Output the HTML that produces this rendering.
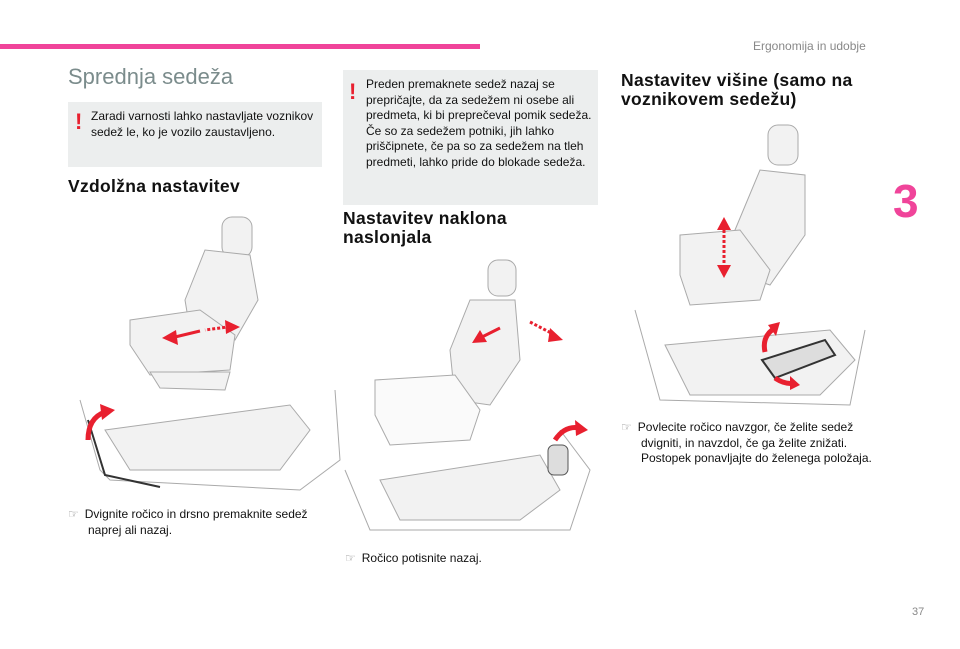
<!DOCTYPE html>
<html><head><meta charset="utf-8"><style>
body{margin:0;width:960px;height:649px;background:#fff;position:relative;overflow:hidden;font-family:"Liberation Sans",sans-serif;color:#111}
.a{position:absolute}
.t{font-size:12px;line-height:15.5px}
h2{position:absolute;margin:0;font-size:17.5px;font-weight:bold;line-height:19px;color:#111;letter-spacing:0.3px}
.box{position:absolute;background:#eceeee}
.ex{position:absolute;color:#e8202f;font-weight:bold;font-size:22px;line-height:20px}
.f{color:#888;margin-right:6px}
svg{position:absolute;left:0;top:0}
</style></head><body>
<div class="a" style="left:0;top:44px;width:480px;height:5px;background:#f0449a"></div>
<div class="a" style="left:753px;top:39px;font-size:12px;color:#888">Ergonomija in udobje</div>
<div class="a" style="left:893px;top:178px;font-size:46px;font-weight:bold;color:#f0449a;line-height:46px">3</div>
<div class="a" style="left:912px;top:606px;font-size:11px;color:#888">37</div>

<div class="a" style="left:68px;top:64px;font-size:22px;color:#7b8c8c">Sprednja sedeža</div>
<div class="box" style="left:68px;top:102px;width:254px;height:65px"></div>
<div class="ex" style="left:75px;top:112px">!</div>
<div class="a t" style="left:91px;top:109px;width:230px">Zaradi varnosti lahko nastavljate voznikov sedež le, ko je vozilo zaustavljeno.</div>
<h2 style="left:68px;top:177px">Vzdolžna nastavitev</h2>

<div class="box" style="left:343px;top:70px;width:255px;height:135px"></div>
<div class="ex" style="left:349px;top:82px">!</div>
<div class="a t" style="left:366px;top:77px;width:230px">Preden premaknete sedež nazaj se prepričajte, da za sedežem ni osebe ali predmeta, ki bi preprečeval pomik sedeža. Če so za sedežem potniki, jih lahko priščipnete, če pa so za sedežem na tleh predmeti, lahko pride do blokade sedeža.</div>
<h2 style="left:343px;top:209px">Nastavitev naklona<br>naslonjala</h2>

<h2 style="left:621px;top:71px">Nastavitev višine (samo na<br>voznikovem sedežu)</h2>

<svg width="960" height="649" fill="#f2f2f2" stroke="#aaa" stroke-width="1">
<rect x="222" y="217" width="30" height="40" rx="10"/>
<path d="M185 300 L205 250 L250 255 L258 300 L235 340 L190 330Z"/>
<path d="M130 320 L200 310 L235 335 L230 370 L150 375 L130 345Z"/>
<path d="M150 372 L230 372 L225 390 L160 388Z"/>
<path d="M80 400 L100 470 L110 480 L300 490 L340 460 L335 390" fill="none"/>
<path d="M105 430 L290 405 L310 430 L280 470 L130 470Z"/>
<path d="M88 420 L105 475 L160 487" fill="none" stroke="#333" stroke-width="2"/>
<rect x="488" y="260" width="28" height="36" rx="10"/>
<path d="M450 350 L470 300 L515 300 L520 360 L490 405 L455 400Z"/>
<path d="M375 380 L455 375 L480 410 L470 440 L390 445 L375 415Z" fill="#fafafa"/>
<path d="M345 470 L370 530 L570 530 L590 470 L560 430" fill="none"/>
<path d="M380 480 L540 455 L560 490 L520 520 L400 520Z"/>
<rect x="548" y="445" width="20" height="30" rx="6" fill="#ddd" stroke="#555"/>
<rect x="768" y="125" width="30" height="40" rx="10"/>
<path d="M735 230 L760 170 L805 175 L805 235 L770 285 L740 275Z"/>
<path d="M680 235 L740 230 L770 270 L760 300 L690 305 L680 275Z"/>
<path d="M635 310 L660 400 L850 405 L865 330" fill="none"/>
<path d="M665 345 L830 330 L855 360 L820 395 L690 395Z"/>
<path d="M762 360 L825 340 L835 355 L775 378Z" fill="#ddd" stroke="#333" stroke-width="2"/>
</svg>
<svg width="960" height="649" fill="#e8202f" stroke="#e8202f" stroke-width="3">
<line x1="235" y1="326" x2="205" y2="330" stroke-dasharray="3 2"/>
<polygon points="225,320 240,327 226,334" stroke="none"/>
<line x1="200" y1="331" x2="175" y2="337"/>
<polygon points="162,338 176,330 178,345" stroke="none"/>
<path d="M88 440 Q88 418 105 412" fill="none" stroke-width="5"/>
<polygon points="100,404 115,410 102,420" stroke="none"/>
<line x1="500" y1="328" x2="480" y2="338"/>
<polygon points="472,343 480,330 487,342" stroke="none"/>
<line x1="530" y1="322" x2="555" y2="335" stroke-dasharray="3 2"/>
<polygon points="563,340 550,328 548,342" stroke="none"/>
<path d="M555 440 Q565 425 580 428" fill="none" stroke-width="5"/>
<polygon points="588,430 575,420 576,436" stroke="none"/>
<line x1="724" y1="230" x2="724" y2="265" stroke-dasharray="3 2"/>
<polygon points="717,230 724,217 731,230" stroke="none"/>
<polygon points="717,265 724,278 731,265" stroke="none"/>
<path d="M765 352 Q762 338 772 330" fill="none" stroke-width="5"/>
<polygon points="768,325 780,322 776,336" stroke="none"/>
<path d="M775 378 Q785 385 795 383" fill="none" stroke-width="5"/>
<polygon points="800,385 790,376 790,390" stroke="none"/>
</svg>

<div class="a t" style="left:68px;top:507px;width:250px;padding-left:20px;text-indent:-20px"><span class="f">☞</span>Dvignite ročico in drsno premaknite sedež naprej ali nazaj.</div>
<div class="a t" style="left:345px;top:551px"><span class="f">☞</span>Ročico potisnite nazaj.</div>
<div class="a t" style="left:621px;top:420px;width:250px;padding-left:20px;text-indent:-20px"><span class="f">☞</span>Povlecite ročico navzgor, če želite sedež dvigniti, in navzdol, če ga želite znižati. Postopek ponavljajte do želenega položaja.</div>
</body></html>
